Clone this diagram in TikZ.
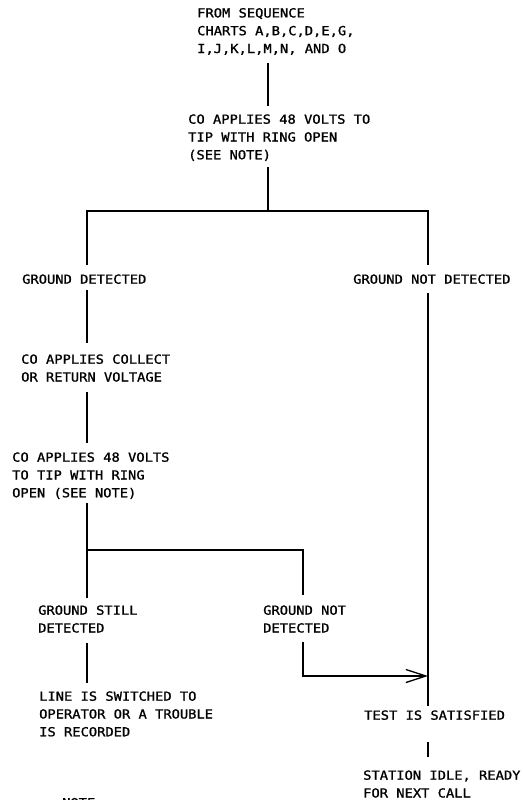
\documentclass[tikz,border=0pt]{standalone}
\usepackage{fontspec}
\usetikzlibrary{arrows.meta}
\newfontfamily\lerofont[FakeStretch=1.1,FakeBold=1.2]{DejaVu Sans Mono}
\newcommand{\firstln}{\rule{0pt}{11pt}}
\begin{document}
\begin{tikzpicture}[x=1pt,y=-1pt,
  txt/.style={align=left,anchor=north west,inner sep=0pt,
    font=\lerofont\fontsize{12.5}{17.8}\selectfont},
  conn/.style={line width=1.5pt},
  barb/.style={-{Straight Barb[length=20pt,width=13pt,line width=1.3pt]}}]
\useasboundingbox (0,0) rectangle (522,800);
% text blocks
\node[txt] (start) at (197,6.2) {\firstln FROM SEQUENCE\\CHARTS A,B,C,D,E,G,\\I,J,K,L,M,N, AND O};
\node[txt] (apply1) at (188,112.5) {\firstln CO APPLIES 48 VOLTS TO\\TIP WITH RING OPEN\\(SEE NOTE)};
\node[txt] (gd) at (22,272.5) {\firstln GROUND DETECTED};
\node[txt] (gnd) at (353,272.5) {\firstln GROUND NOT DETECTED};
\node[txt] (collect) at (21,352.5) {\firstln CO APPLIES COLLECT\\OR RETURN VOLTAGE};
\node[txt] (apply2) at (12,450.5) {\firstln CO APPLIES 48 VOLTS\\TO TIP WITH RING\\OPEN (SEE NOTE)};
\node[txt] (still) at (38,603.5) {\firstln GROUND STILL\\DETECTED};
\node[txt] (gnd2) at (263,603.5) {\firstln GROUND NOT\\DETECTED};
\node[txt] (oper) at (39,689.5) {\firstln LINE IS SWITCHED TO\\OPERATOR OR A TROUBLE\\IS RECORDED};
\node[txt] (test) at (364,708.5) {\firstln TEST IS SATISFIED};
\node[txt] (idle) at (363,768.5) {\firstln STATION IDLE, READY\\FOR NEXT CALL};
\node[txt] (note) at (62,796) {\firstln NOTE:};
% junction coordinates
\coordinate (s1) at (268,63);   \coordinate (a1t) at (268,106);
\coordinate (a1b) at (268,167); \coordinate (j1) at (268,211);
\coordinate (jl) at (87,211);   \coordinate (jr) at (428,211);
\coordinate (gdt) at (87,265);  \coordinate (gndt) at (428,265);
\coordinate (gdb) at (87,290);  \coordinate (colt) at (87,343);
\coordinate (gndb) at (428,293); \coordinate (testt) at (428,706);
\coordinate (colb) at (87,392); \coordinate (a2t) at (87,443);
\coordinate (a2b) at (87,503);  \coordinate (j2) at (87,550);
\coordinate (stillt) at (87,598); \coordinate (j2r) at (303,550);
\coordinate (gnd2t) at (303,595);
\coordinate (stillb) at (87,643); \coordinate (opert) at (87,683);
\coordinate (gnd2b) at (303,642); \coordinate (hit) at (428,676);
\coordinate (testb) at (428,742); \coordinate (idlet) at (428,757);
% connectors
\draw[conn] (s1) -- (a1t);
\draw[conn] (a1b) -- (j1);
\draw[conn] (gdt) -- (jl) -- (jr) -- (gndt);
\draw[conn] (gdb) -- (colt);
\draw[conn] (gndb) -- (testt);
\draw[conn] (colb) -- (a2t);
\draw[conn] (a2b) -- (stillt);
\draw[conn] (j2) -- (j2r) -- (gnd2t);
\draw[conn] (stillb) -- (opert);
\draw[conn,barb] (gnd2b) |- (hit);
\draw[conn] (testb) -- (idlet);
\end{tikzpicture}
\end{document}
